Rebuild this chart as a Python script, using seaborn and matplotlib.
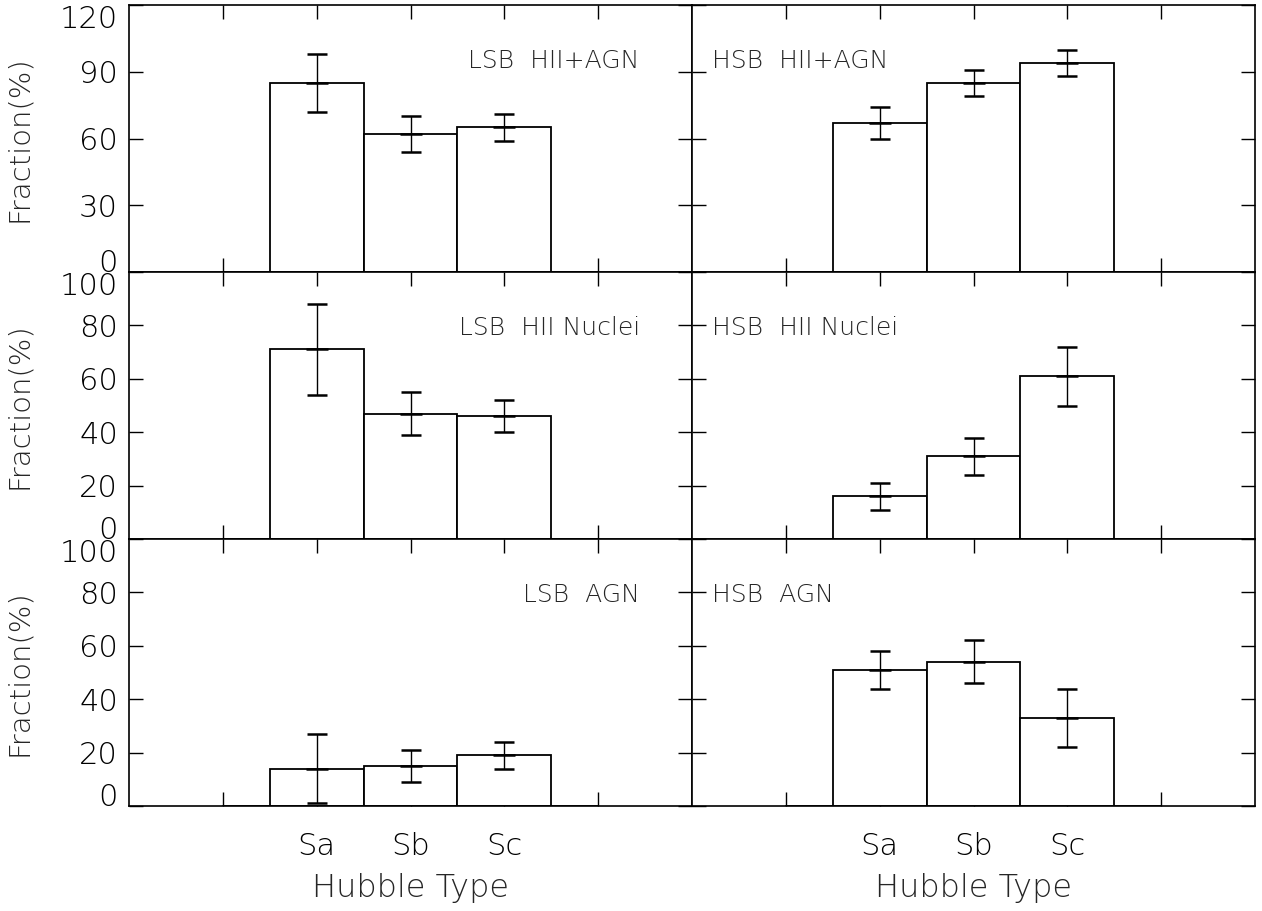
import numpy as np
import pandas as pd
import seaborn as sns
import matplotlib
matplotlib.use("Agg")
import matplotlib.pyplot as plt

# ---- data ----
hubble_types = ["Sa", "Sb", "Sc"]
type_pos = [1, 2, 3]

lsb_all = [85, 62, 65]
lsb_all_err = [13, 8, 6]
hsb_all = [67, 85, 94]
hsb_all_err = [7, 6, 6]

lsb_hii = [71, 47, 46]
lsb_hii_err = [17, 8, 6]
hsb_hii = [16, 31, 61]
hsb_hii_err = [5, 7, 11]

lsb_agn = [14, 15, 19]
lsb_agn_err = [13, 6, 5]
hsb_agn = [51, 54, 33]
hsb_agn_err = [7, 8, 11]

panel_titles = [["LSB  HII+AGN", "HSB  HII+AGN"],
                ["LSB  HII Nuclei", "HSB  HII Nuclei"],
                ["LSB  AGN", "HSB  AGN"]]
panel_vals = [[lsb_all, hsb_all], [lsb_hii, hsb_hii], [lsb_agn, hsb_agn]]
panel_errs = [[lsb_all_err, hsb_all_err], [lsb_hii_err, hsb_hii_err], [lsb_agn_err, hsb_agn_err]]
row_yticks = [[0, 30, 60, 90, 120], [0, 20, 40, 60, 80, 100], [0, 20, 40, 60, 80, 100]]

sns.set_style("ticks")
plt.rcParams["font.family"] = ["DejaVu Sans"]
plt.rcParams["font.weight"] = "light"
plt.rcParams["axes.labelweight"] = "light"
plt.rcParams["axes.linewidth"] = 1.2

fig, axes = plt.subplots(3, 2, figsize=(12.62, 9.11), dpi=100)
fig.subplots_adjust(left=129/1262, right=1255/1262, top=1-5/911, bottom=1-806/911,
                    wspace=0, hspace=0)

tick_font = 22
ylabel_font = 21
xlabel_font = 23
title_font = 18
for r in range(3):
    for c in range(2):
        ax = axes[r][c]
        vals = panel_vals[r][c]
        errs = panel_errs[r][c]
        df = pd.DataFrame({"pos": type_pos, "val": vals})
        sns.barplot(data=df, x="pos", y="val", native_scale=True, width=1,
                    color="white", edgecolor="black", linewidth=1.3,
                    errorbar=None, ax=ax)
        ax.errorbar(type_pos, vals, yerr=errs, fmt="_", color="black",
                    markersize=16, markeredgewidth=1.8, elinewidth=1.0,
                    capsize=7, capthick=1.0)
        # half-bin empty baseline at both ends of the histogram
        ax.plot([type_pos[0] - 1, type_pos[0] - 0.5], [0, 0], color="black", lw=1.3)
        ax.plot([type_pos[-1] + 0.5, type_pos[-1] + 1], [0, 0], color="black", lw=1.3)

        ax.set_xlim(type_pos[0] - 2, type_pos[-1] + 2)
        yt = row_yticks[r]
        ax.set_ylim(yt[0], yt[-1])
        ax.set_yticks(yt)
        ax.set_xticks([type_pos[0] - 1] + type_pos + [type_pos[-1] + 1])
        ax.tick_params(direction="in", length=10, width=1.0, top=True, right=True,
                       labelsize=tick_font, colors="black")
        ax.tick_params(axis="y", pad=8)
        ax.tick_params(axis="x", pad=19)
        if r == 2:
            ax.set_xticklabels([""] + hubble_types + [""])
            ax.set_xlabel("Hubble Type", fontsize=xlabel_font)
            ax.xaxis.set_label_coords(0.5, -0.25)
        else:
            ax.set_xticklabels([])
            ax.set_xlabel("")
        if c == 0:
            labs = ax.set_yticklabels([str(v) for v in yt])
            labs[0].set_va("baseline")
            labs[-1].set_va("top")
            ax.set_ylabel("Fraction(%)", fontsize=ylabel_font)
            ax.yaxis.set_label_coords(-0.17, 0.5)
            ax.text(0.907, 0.79, panel_titles[r][c], transform=ax.transAxes,
                    ha="right", va="center", fontsize=title_font)
        else:
            ax.set_yticklabels([])
            ax.set_ylabel("")
            ax.text(0.036, 0.79, panel_titles[r][c], transform=ax.transAxes,
                    ha="left", va="center", fontsize=title_font)
        for s in ax.spines.values():
            s.set_visible(True)
            s.set_color("black")

fig.savefig("out.png", dpi=100)
